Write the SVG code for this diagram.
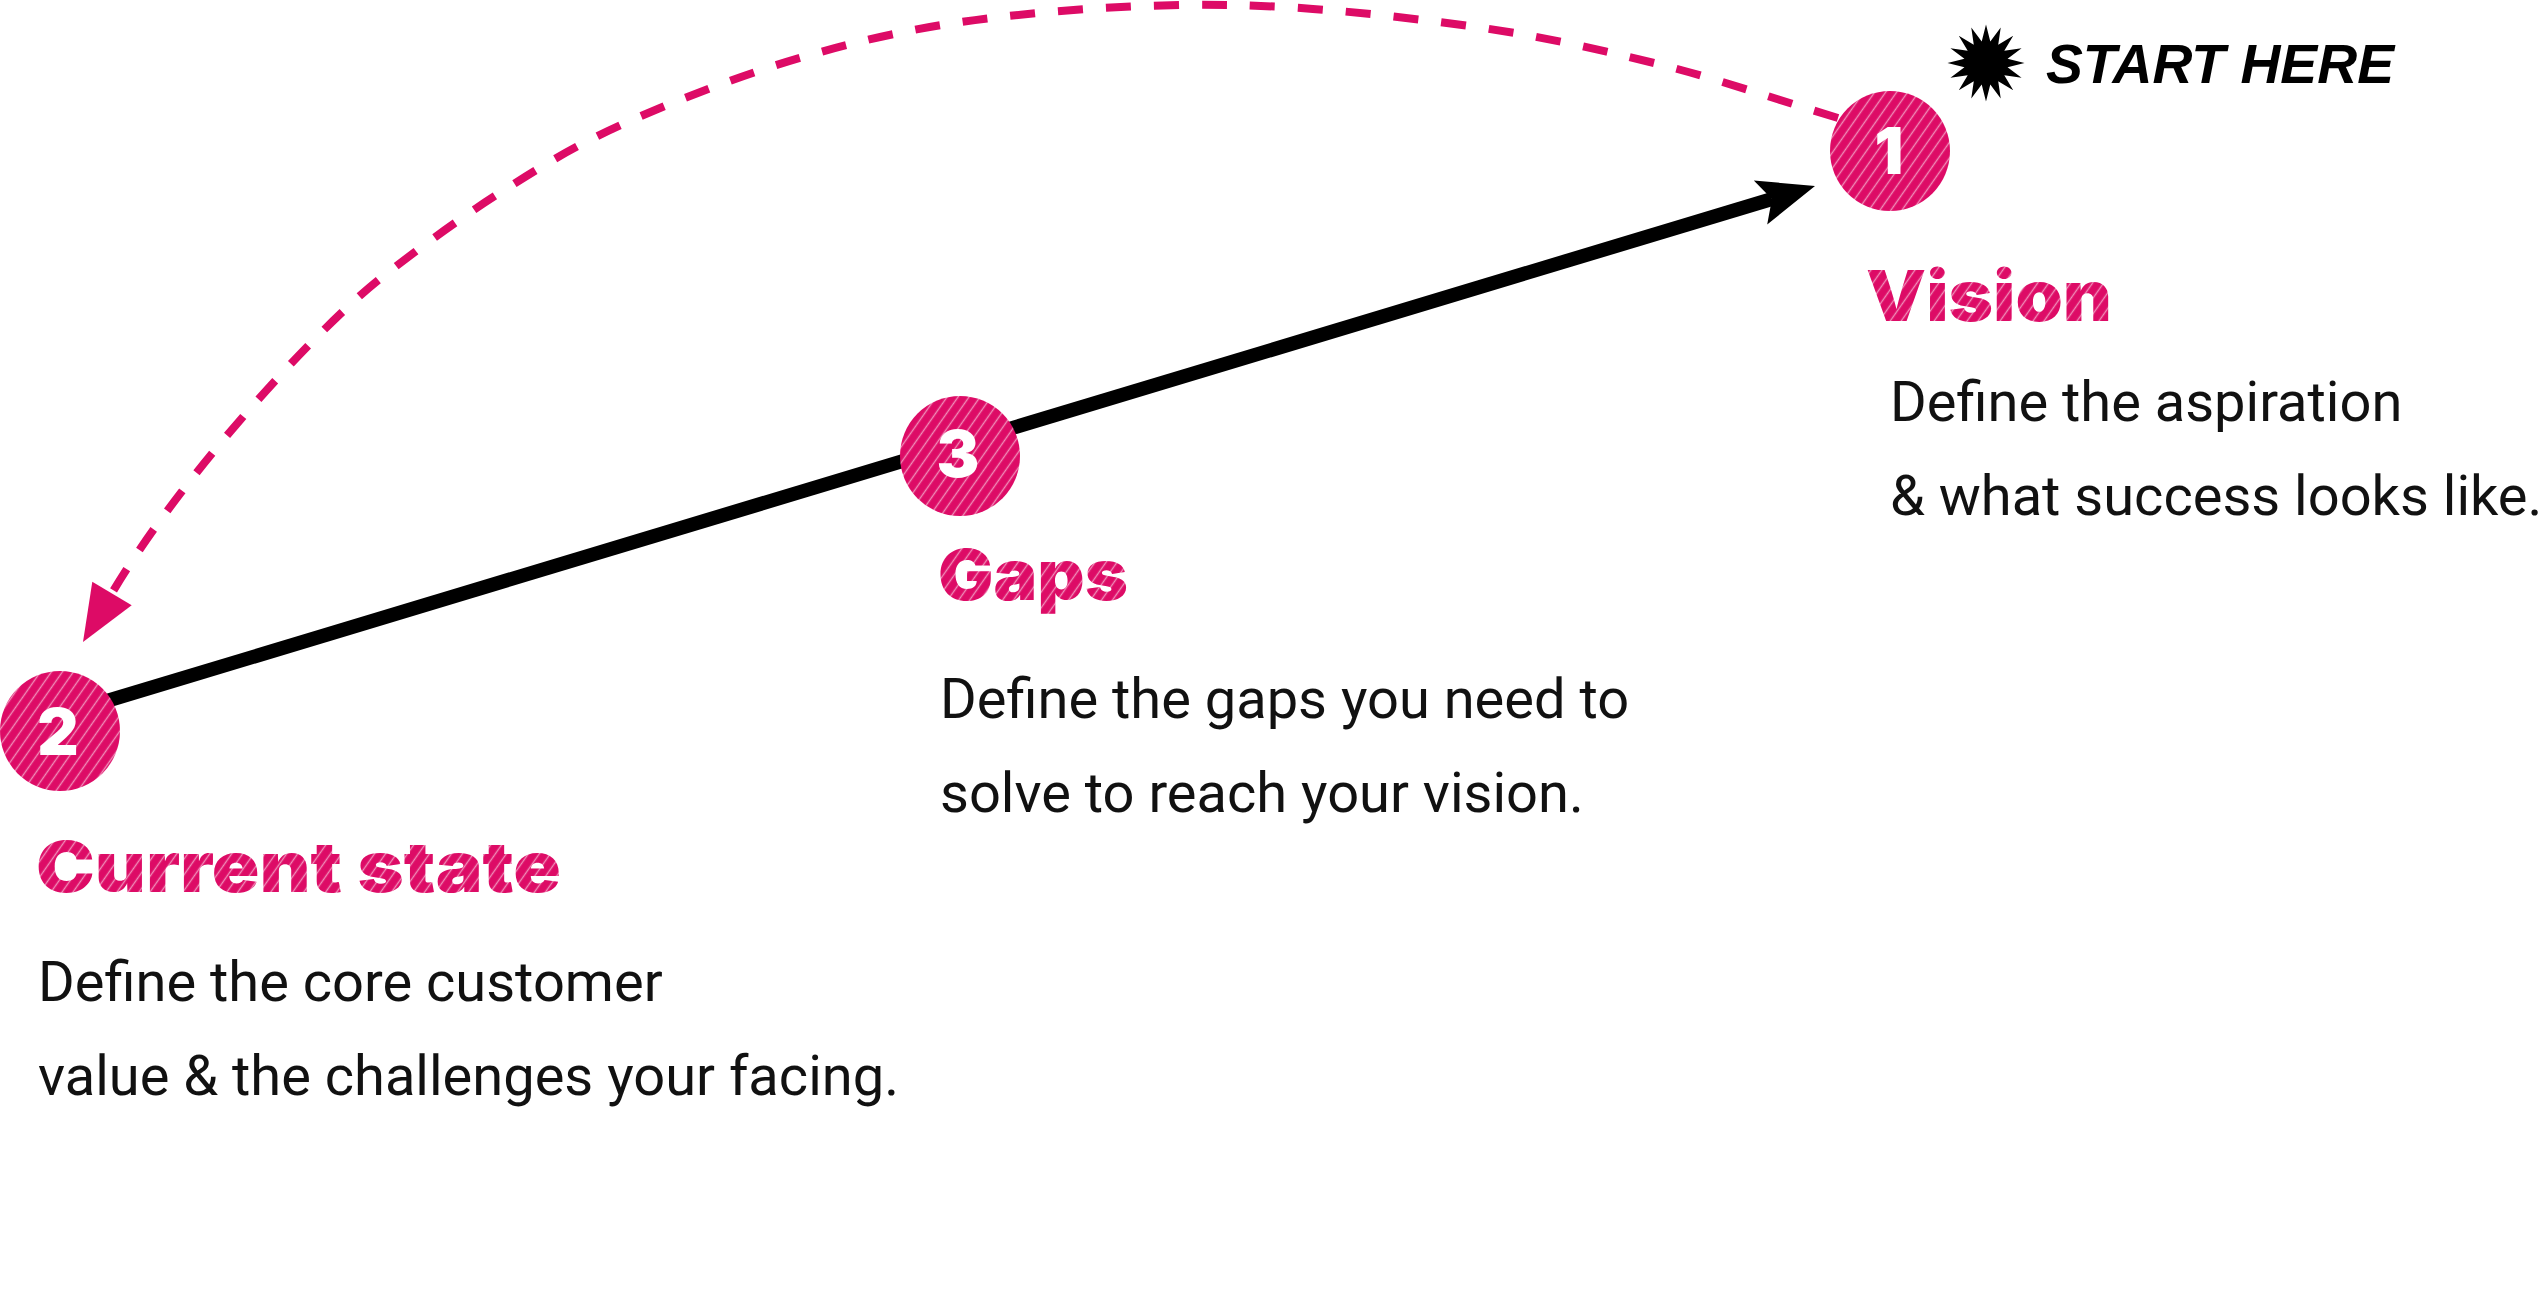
<svg xmlns="http://www.w3.org/2000/svg" width="2541" height="1304" viewBox="0 0 2541 1304">
<style>
.head{font-family:Inter,Lato,Roboto,"Noto Sans",sans-serif;font-weight:900;font-size:70px;fill:url(#hatch)}
.body{font-family:Roboto,"Liberation Sans",sans-serif;font-weight:400;font-size:56px;fill:#111}
.num{font-family:Inter,Lato,Roboto,sans-serif;font-weight:900;font-size:64px;fill:#fff;text-anchor:middle}
.dash{fill:none;stroke:#DD0B66;stroke-width:8;stroke-dasharray:25 23}
</style>
<defs>
<pattern id="hatch" width="9" height="9" patternUnits="userSpaceOnUse" patternTransform="rotate(35)">
<rect width="9" height="9" fill="#DD0B66"/>
<line x1="4.5" y1="0" x2="4.5" y2="9" stroke="#F08DB8" stroke-width="1.4"/>
</pattern>
</defs>
<rect width="2541" height="1304" fill="#fff"/>
<g id="connectors">
<path class="dash" d="M1838,118 C1778,100 1719.5,79.3 1658,64 C1596.5,48.7 1540.2,35.8 1469,26 C1397.8,16.2 1310.7,6.3 1231,5 C1151.3,3.7 1062.3,9.3 991,18 C919.7,26.7 864.3,39.3 803,57 C741.7,74.7 673.8,101.2 623,124 C572.2,146.8 538.3,168.3 498,194 C457.7,219.7 414,252 381,278 C320,326 183,473 112,593"/>
<polygon points="83,642 92.3,581.7 131.7,605.3" fill="#DD0B66"/>
<line x1="100" y1="703" x2="1772" y2="199" stroke="#000" stroke-width="14"/>
<polygon points="1815,186 1753.8,180.5 1771.9,199 1767.2,224.5" fill="#000"/>
</g>
<g id="node-vision">
<circle cx="1890" cy="151" r="60" fill="url(#hatch)"/>
<text class="num" x="1889" y="174">1</text>
<text class="head" x="1866" y="321" textLength="246" lengthAdjust="spacingAndGlyphs">Vision</text>
<text class="body" x="1890" y="421">Define the aspiration</text>
<text class="body" x="1890" y="515">&amp; what success looks like.</text>
</g>
<g id="node-current">
<circle cx="60" cy="731" r="60" fill="url(#hatch)"/>
<text class="num" x="58" y="755">2</text>
<text class="head" x="36" y="892" textLength="525" lengthAdjust="spacingAndGlyphs">Current state</text>
<text class="body" x="38" y="1001">Define the core customer</text>
<text class="body" x="38" y="1095">value &amp; the challenges your facing.</text>
</g>
<g id="node-gaps">
<circle cx="960" cy="456" r="60" fill="url(#hatch)"/>
<text class="num" x="958" y="477">3</text>
<text class="head" x="938" y="600" textLength="190" lengthAdjust="spacingAndGlyphs">Gaps</text>
<text class="body" x="940" y="718">Define the gaps you need to</text>
<text class="body" x="940" y="812">solve to reach your vision.</text>
</g>
<g id="start-here">
<polygon transform="translate(1986,63) scale(1.1)" fill="#000" points="35,0 19.62,3.9 32.34,13.39 16.63,11.11 24.75,24.75 11.11,16.63 13.39,32.34 3.9,19.62 0,35 -3.9,19.62 -13.39,32.34 -11.11,16.63 -24.75,24.75 -16.63,11.11 -32.34,13.39 -19.62,3.9 -35,0 -19.62,-3.9 -32.34,-13.39 -16.63,-11.11 -24.75,-24.75 -11.11,-16.63 -13.39,-32.34 -3.9,-19.62 0,-35 3.9,-19.62 13.39,-32.34 11.11,-16.63 24.75,-24.75 16.63,-11.11 32.34,-13.39 19.62,-3.9"/>
<text x="2046" y="83" font-family="'Liberation Sans',sans-serif" font-weight="700" font-style="italic" font-size="55" fill="#000" textLength="348" lengthAdjust="spacingAndGlyphs">START HERE</text>
</g>
</svg>
